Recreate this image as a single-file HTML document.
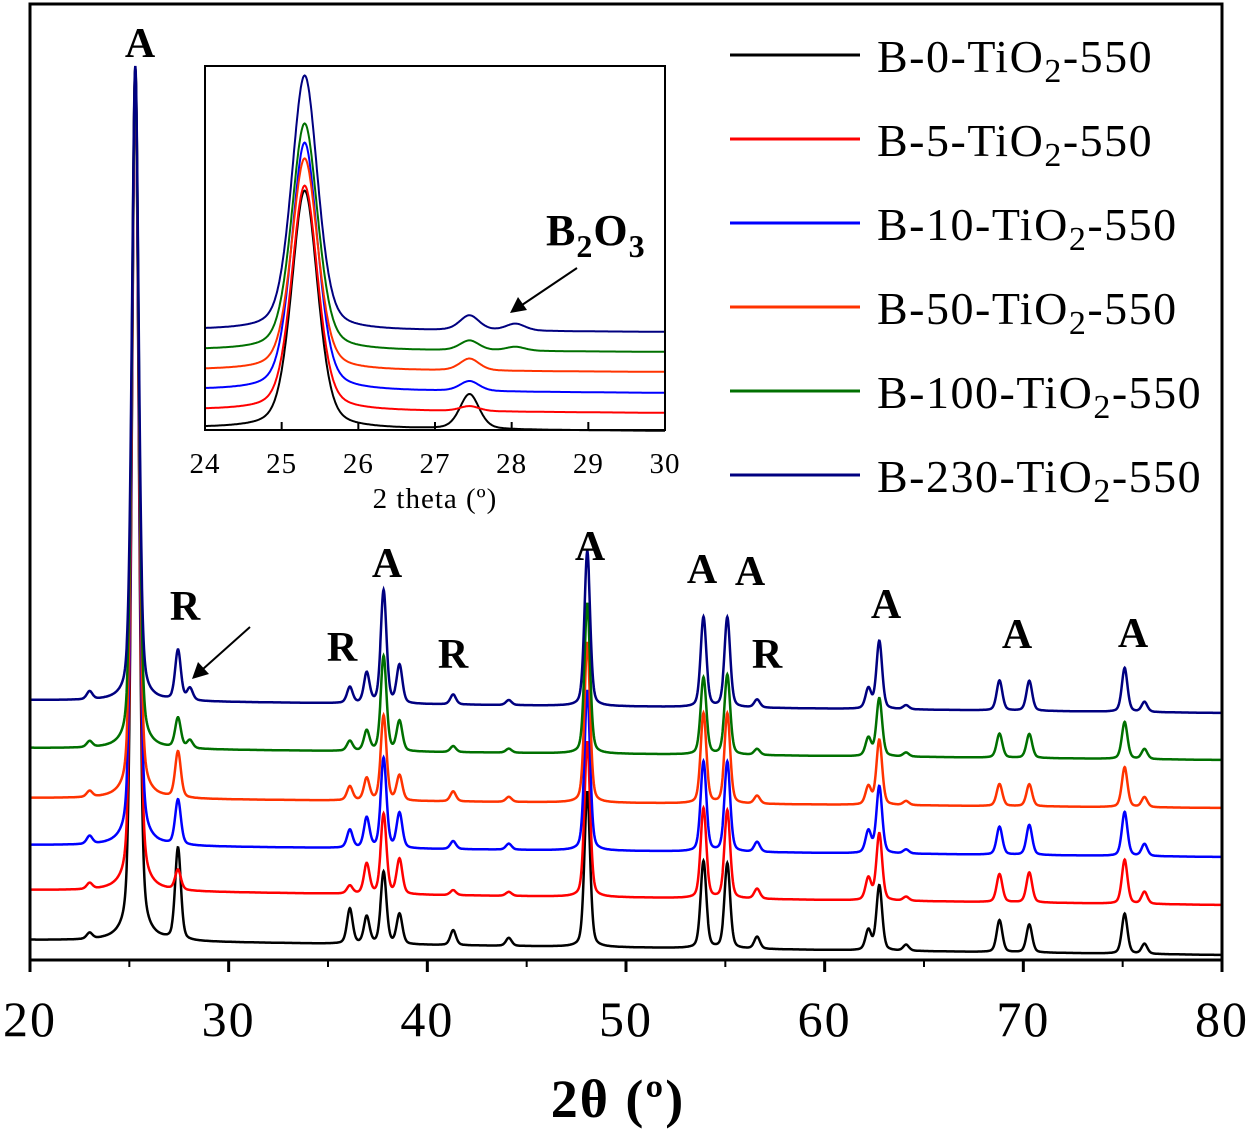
<!DOCTYPE html>
<html><head><meta charset="utf-8"><style>
html,body{margin:0;padding:0;background:#fff}
svg{display:block;font-family:"Liberation Serif",serif}
</style></head><body>
<svg id="chart" width="1250" height="1131" viewBox="0 0 1250 1131" xmlns="http://www.w3.org/2000/svg">
<g id="main-curves"></g>
<rect x="30" y="4" width="1192" height="956" fill="none" stroke="#000" stroke-width="3"/>
<g id="main-axis"></g>
<text x="618" y="1117" text-anchor="middle" font-size="54" font-weight="bold" letter-spacing="2">2θ (º)</text>
<g font-size="42" font-weight="bold" text-anchor="middle">
<text x="140" y="57">A</text><text x="185" y="620">R</text><text x="387" y="577">A</text>
<text x="342" y="661">R</text><text x="453" y="668">R</text><text x="590" y="560">A</text>
<text x="702" y="583">A</text><text x="750" y="585">A</text><text x="767" y="668">R</text>
<text x="886" y="618">A</text><text x="1017" y="648">A</text><text x="1133" y="647">A</text>
</g>
<g><line x1="250" y1="627" x2="203" y2="669" stroke="#000" stroke-width="2"/><polygon points="192,679 198,662 209,674" fill="#000"/></g>
<rect x="205" y="66" width="460" height="364" fill="#fff"/>
<g id="inset-curves"></g>
<rect x="205" y="66" width="460" height="364" fill="none" stroke="#000" stroke-width="2"/>
<g id="inset-axis"></g>
<text x="435" y="508" text-anchor="middle" font-size="29" letter-spacing="1">2 theta (º)</text>
<text x="546" y="245" font-size="44" font-weight="bold" letter-spacing="1">B<tspan font-size="32" dy="12">2</tspan><tspan dy="-12">O</tspan><tspan font-size="32" dy="12">3</tspan></text>
<g><line x1="577" y1="268" x2="522" y2="305" stroke="#000" stroke-width="2"/><polygon points="510,313 518,297 527,310" fill="#000"/></g>
<g id="legend"></g>
</svg>
<script>
const names = ["B-0","B-5","B-10","B-50","B-100","B-230"];
const colors = ["#000000","#ff0000","#0000ff","#ff3300","#007000","#000080"];
const peakPos = [23.0,25.3,27.45,28.05,36.1,36.95,37.8,38.6,41.3,44.1,48.05,53.9,55.1,56.6,62.2,62.75,64.1,68.8,70.3,75.1,76.1];
const hB0   = [6,870,92,0,35,27,72,30,15,8,155,87,85,12,20,65,6,32,28,40,10];
const hB5   = [6,820,20,0,8,30,80,35,5,4,155,90,88,10,22,67,4,28,30,44,12];
const hB10  = [8,775,45,0,18,30,90,35,8,6,160,90,90,10,22,67,4,28,30,44,12];
const hB50  = [6,730,46,0,14,22,85,25,10,5,160,90,90,8,18,65,4,22,22,40,10];
const hB100 = [6,680,30,8,10,20,95,30,6,4,150,77,80,6,18,58,4,24,24,37,10];
const hB230 = [8,635,50,12,16,30,113,38,10,5,155,90,90,8,20,68,4,30,30,44,10];
const offsetLeft  = [20,70,115,162,212,260];
const offsetRight = [5,55,103,152,200,247];
const xTicks = [20,30,40,50,60,70,80];
const insetPos = [25.3,27.45,28.05];
const insetH = [[238,35,0],[225,5,0],[248,10,0],[212,12,0],[227,10,4],[255,15,7]];
const insetOffL = [2,20,40,60,80,100];
const insetOffR = [-1,17,37,58,78,98];
const insetTicks = [24,25,26,27,28,29,30];
const allH = [hB0,hB5,hB10,hB50,hB100,hB230];
const NS="http://www.w3.org/2000/svg";
function mx(v){return 30+(v-20)*(1192/60);}
function ix(v){return 205+(v-24)*(460/6);}
function pv(x,p,h,w){const d=(x-p)/w;return h*(0.35/(1+d*d)+0.65*Math.exp(-0.693*d*d));}
function mk(t,a){const e=document.createElementNS(NS,t);for(const k in a)e.setAttribute(k,a[k]);return e;}
const mc=document.getElementById('main-curves');
for(let s=0;s<6;s++){
  let d="";
  for(let x=20;x<=80.001;x+=0.02){
    let y=0;
    for(let i=0;i<peakPos.length;i++){const w=i===1?0.2:0.17;y+=pv(x,peakPos[i],allH[s][i],w);}
    const base=960-(offsetLeft[s]+(offsetRight[s]-offsetLeft[s])*(x-20)/60);
    d+=(d?"L":"M")+mx(x).toFixed(1)+","+Math.max(5,base-y).toFixed(1);
  }
  const p=mk('path',{d:d,fill:'none',stroke:colors[s],'stroke-width':2.5});
  
  
  mc.appendChild(p);
}
const ma=document.getElementById('main-axis');
xTicks.forEach(t=>{
  const l=mk('line',{x1:mx(t),x2:mx(t),y1:960,y2:972,stroke:'#000','stroke-width':3});
  
  
  ma.appendChild(l);
  const tx=mk('text',{x:mx(t),y:1036,'text-anchor':'middle','font-size':50,'letter-spacing':2});
  tx.textContent=t;
  
  
  ma.appendChild(tx);
});
for(let t=25;t<80;t+=10){
  const l=mk('line',{x1:mx(t),x2:mx(t),y1:960,y2:967,stroke:'#000','stroke-width':2});
  
  
  ma.appendChild(l);
}
const ic=document.getElementById('inset-curves');
for(let s=0;s<6;s++){
  let d="";
  for(let x=24;x<=30.001;x+=0.01){
    let y=0;
    for(let i=0;i<insetPos.length;i++){y+=pv(x,insetPos[i],insetH[s][i],i===0?0.2:0.15);}
    const base=430-(insetOffL[s]+(insetOffR[s]-insetOffL[s])*(x-24)/6);
    d+=(d?"L":"M")+ix(x).toFixed(1)+","+(base-y).toFixed(1);
  }
  const p=mk('path',{d:d,fill:'none',stroke:colors[s],'stroke-width':2});
  
  
  ic.appendChild(p);
}
const ia=document.getElementById('inset-axis');
insetTicks.forEach(t=>{
  const l=mk('line',{x1:ix(t),x2:ix(t),y1:430,y2:422,stroke:'#000','stroke-width':2});
  
  
  ia.appendChild(l);
  const tx=mk('text',{x:ix(t),y:473,'text-anchor':'middle','font-size':29,'letter-spacing':1});
  tx.textContent=t;
  
  
  ia.appendChild(tx);
});
const lg=document.getElementById('legend');
for(let s=0;s<6;s++){
  const y=55+s*84;
  const g=mk('g',{});
  
  
  g.appendChild(mk('line',{x1:730,x2:860,y1:y,y2:y,stroke:colors[s],'stroke-width':3}));
  const t=mk('text',{x:877,y:y+17,'font-size':46,'letter-spacing':1.5});
  t.innerHTML=names[s]+'-TiO<tspan font-size="34" dy="10">2</tspan><tspan dy="-10">-550</tspan>';
  g.appendChild(t);
  lg.appendChild(g);
}
</script>
</body></html>
